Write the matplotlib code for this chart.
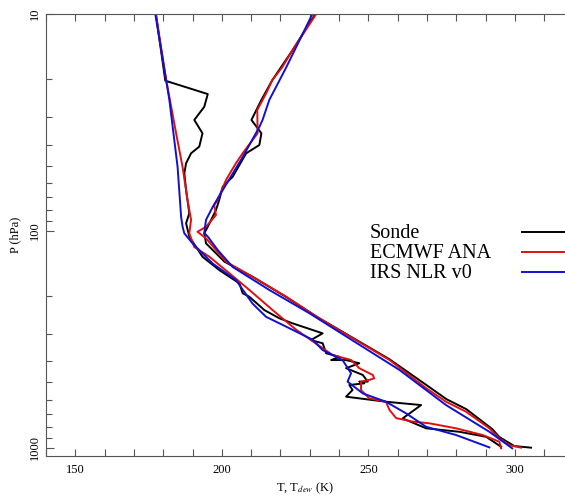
import numpy as np
import matplotlib
matplotlib.use('Agg')
import matplotlib.pyplot as plt
from matplotlib.lines import Line2D
from matplotlib.ticker import FixedLocator, NullFormatter, LogLocator

plt.rcParams['font.family'] = ['Liberation Serif', 'DejaVu Serif']
plt.rcParams['mathtext.fontset'] = 'stix'

# --- temperature profiles (K) vs pressure (hPa) ---
p_sonde_t = [10, 14.7, 20.2, 24.9, 30.8, 35.5, 40.2, 43.9, 56.3, 62.6, 72.1, 80.2, 95.7, 102.7,
             114.2, 138.8, 163, 202, 250, 391, 514, 597, 664, 821, 893, 983, 1000]
t_sonde = [231.9, 224.1, 217.2, 213.5, 210.1, 213.5, 212.8, 208.3, 203.7, 200.3, 199.1, 198.0, 195.2, 194.0,
           194.6, 200.9, 210.5, 222.0, 232.6, 257.2, 269.8, 276.6, 283.4, 292.3, 294.7, 299.8, 305.5]

p_ecmwf_t = [10, 14.7, 17.6, 20.2, 23.1, 27.7, 35.5, 38.1, 43.9, 48.8, 58.3, 72.1, 76, 84.6, 95.7,
             101, 108.3, 138.8, 162.8, 201, 250, 394, 531, 614, 682, 814, 906, 973, 1000]
t_ecmwf = [232.2, 224.1, 220.6, 217.2, 215.2, 212.1, 212.2, 210.5, 207.1, 204.8, 201.4, 198.6, 197.4, 198.0, 194.6,
           191.7, 194.6, 201.4, 210.5, 221.9, 232.6, 257.2, 269.7, 276.5, 283.3, 291.3, 294.7, 298.1, 302.1]

p_irs_t = [10, 17.6, 24.9, 30.8, 33.2, 45.7, 64.9, 77.5, 89, 102.4, 106.3, 122.6, 146.8, 187.4,
           240, 438, 636, 845, 1007]
t_irs = [230.9, 222.0, 216.2, 213.9, 212.8, 207.1, 200.3, 196.9, 194.6, 194.0, 195.2, 198.6, 203.7, 216.2,
         229.9, 260.6, 276.5, 291.3, 299.1]

# --- dew point profiles ---
p_sonde_td = [10, 20.3, 23.4, 26.8, 30.8, 35.5, 40.9, 43.9, 48.8, 54.3, 64.8, 83, 92.3, 106.4, 131.7,
              151.6, 174.7, 194, 201.4, 231.9, 253, 267.2, 297, 319, 330, 367, 381, 394.5, 394.5, 408,
              430, 462, 496, 496, 505, 514, 542, 582, 614, 636, 733, 814, 845, 891, 991]
td_sonde = [177.5, 180.7, 195.2, 194.0, 190.6, 193.4, 192.3, 189.5, 187.8, 187.2, 187.8, 188.9, 187.8, 188.9, 193.4,
            199.1, 206.0, 207.1, 209.4, 214.5, 219.6, 224.2, 234.4, 230.4, 234.4, 235.6, 240.1, 237.3, 242.4, 246.9,
            242.4, 248.1, 249.8, 246.9, 248.6, 243.5, 244.6, 242.4, 256.0, 268.0, 261.7, 269.7, 281.1, 290.2, 295.3]

p_ecmwf_td = [10, 20.1, 35.5, 50.7, 72.1, 89, 102.7, 118.8, 131.5, 157, 187.4, 231.8, 285.5, 344, 374,
              394, 430, 462, 479, 487, 496, 543, 592, 614, 670, 731, 758, 772, 814, 874, 939, 1007]
td_ecmwf = [177.5, 181.0, 184.4, 186.6, 188.3, 189.5, 188.9, 190.6, 195.7, 202.6, 209.4, 217.3, 225.3, 233.9, 237.8,
            244.1, 246.9, 251.5, 252.0, 250.3, 247.5, 247.5, 250.3, 256.0, 257.2, 259.5, 265.1, 270.8, 279.9, 289.0,
            294.7, 295.3]

p_irs_td = [10, 24.9, 50.7, 86, 95.7, 102.7, 114.2, 141.6, 168.5, 216.7, 249.2, 276.4, 318, 354.6,
            394.5, 454, 496, 562, 614, 695, 801, 874, 997]
td_irs = [177.3, 182.1, 184.9, 186.1, 186.6, 187.2, 190.0, 196.9, 204.8, 210.5, 215.1, 221.9, 231.0, 234.4,
          241.2, 244.1, 242.9, 248.1, 256.0, 262.9, 269.7, 279.9, 291.3]

names = ['Sonde', 'ECMWF ANA', 'IRS NLR v0']
colors = ['black', '#e01010', '#1010d0']

fig = plt.figure(figsize=(5.65, 4.98), dpi=100)
ax = fig.add_axes([46/565, 42.3/498, 519/565, 441.7/498])

profiles = [(p_sonde_t, t_sonde, p_sonde_td, td_sonde),
            (p_ecmwf_t, t_ecmwf, p_ecmwf_td, td_ecmwf),
            (p_irs_t, t_irs, p_irs_td, td_irs)]
for (pt, t, ptd, td), c in zip(profiles, colors):
    ax.plot(t, pt, color=c, lw=1.4)
    ax.plot(td, ptd, color=c, lw=1.4)

ax.set_yscale('log')
ax.set_ylim(1089, 10)
ax.set_xlim(140, 317.1)

ax.yaxis.set_major_locator(FixedLocator([10, 100, 1000]))
ax.yaxis.set_minor_locator(LogLocator(base=10, subs=np.arange(2, 10)))
ax.yaxis.set_minor_formatter(NullFormatter())
ax.set_yticklabels(['10', '100', '1000'], rotation=90, va='center')
ax.set_xticks([150, 200, 250, 300])
ax.set_xticks(np.arange(140, 320, 10), minor=True)

ax.tick_params(which='both', direction='in', top=True, right=False, color='#555555',
               labelsize=9, width=0.8)
ax.tick_params(axis='y', which='major', length=6, pad=4)
ax.tick_params(axis='y', which='minor', length=4)
ax.tick_params(axis='x', which='both', length=5, pad=6)
for s in ['left', 'bottom', 'top']:
    ax.spines[s].set_color('#555555')
    ax.spines[s].set_linewidth(0.8)
ax.spines['right'].set_visible(False)

ax.set_ylabel('P (hPa)', fontsize=9, labelpad=5)
ax.set_xlabel('T, T$_{dew}$ (K)', fontsize=9, labelpad=3)

# key: label on the left, line sample on the right
for i, (name, c) in enumerate(zip(names, colors)):
    y_line = 1 - (232 + 20 * i) / 498
    fig.text(370 / 565, y_line - 5.5 / 498, name, fontsize=14.5, va='baseline', ha='left')
    fig.add_artist(Line2D([522 / 565, 1.0], [y_line, y_line], transform=fig.transFigure,
                          color=c, lw=1.4))

fig.savefig('out.png', dpi=100)
